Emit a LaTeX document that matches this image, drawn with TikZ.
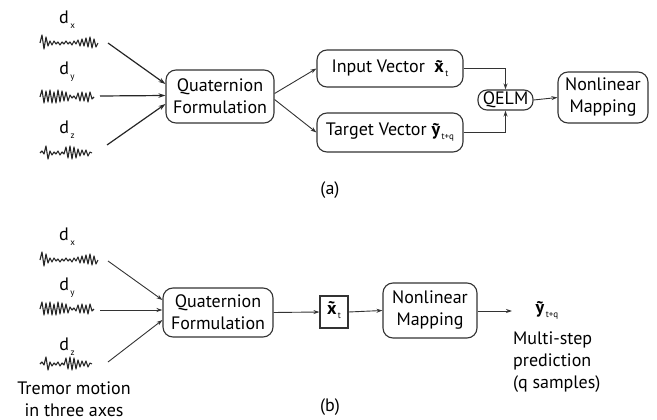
\documentclass[tikz,border=0pt]{standalone}
\usepackage{fontspec}
\setmainfont{PT Sans}
\usetikzlibrary{arrows.meta}

% bold vector with a tilde placed over it and a small lowered index
\newcommand{\tvec}[2]{{\bfseries\ooalign{#1\cr\hidewidth\raisebox{-0.05ex}{\char"02DC}\hidewidth\cr}}\raisebox{-0.45ex}{\fontsize{9}{9}\selectfont\,#2}}
% axis label d with its index
\newcommand{\axislabel}[1]{d\raisebox{-0.55ex}{\fontsize{9}{9}\selectfont\,#1}}

\tikzset{
  every node/.style={font=\fontsize{18}{22}\selectfont, inner sep=0pt},
  box/.style={draw=black!80, line width=1.1pt, rounded corners=10pt, align=center},
  sqbox/.style={draw=black!80, line width=1.1pt, align=center},
  arr/.style={draw=black!80, line width=0.9pt, -{Stealth[length=6pt,width=4pt]}},
  sigarr/.style={draw=black!85, line width=1.2pt, -{Stealth[length=7pt,width=4.5pt]}},
  wave/.style={draw=black!85, line width=1.1pt, line join=round},
}

% tremor trace: start x, base y, list of offsets (2pt apart)
\newcommand{\trace}[3]{\draw[wave] (#1,#2) \foreach \v [count=\i] in {#3} { -- ({#1+2*\i},{#2+\v}) };}

\begin{document}
\begin{tikzpicture}[x=1pt,y=-1pt]
\useasboundingbox (0,0) rectangle (657,420);

% ---------------- panel (a) ----------------
\node (ax) at (67,20) {\axislabel{x}};
\node (ay) at (67,72) {\axislabel{y}};
\node (az) at (67,130) {\axislabel{z}};
\trace{40}{43}{-8,6,-6,3,-2,2,-2,1,-1,2,-1,1,-2,1,-1,2,-2,1,-3,3,-4,3,-5,4,-6,5,-4,4,0}
\trace{40}{97}{-7,6,-6,5,-7,6,-5,6,-7,5,-6,4,-5,4,-2,1,-1,2,-4,4,-5,4,-4,5,-5,2,0}
\trace{40}{153}{-2,1,-7,6,-2,2,-1,1,-2,2,-1,1,-6,5,-7,6,-6,5,-4,3,-3,2,-3,3,-1,0}
\coordinate (sxa) at (108,43);
\coordinate (sya) at (100,96);
\coordinate (sza) at (107,145);

\node[box, minimum width=108pt, minimum height=53pt] (qa) at (220,96.5) {Quaternion\\Formulation};
\node[box, minimum width=146pt, minimum height=37pt] (in) at (390,68.5) {Input Vector \ \tvec{x}{t}};
\node[box, minimum width=146pt, minimum height=39pt] (tg) at (390,132.5) {Target Vector \tvec{y}{t+q}};
\node[box, rounded corners=9pt, minimum width=55pt, minimum height=20pt] (ql) at (505.5,100) {QELM};
\node[box, minimum width=90pt, minimum height=51pt] (nla) at (603,97.5) {Nonlinear\\Mapping};
\node (la) at (330,190) {(a)};

\draw[sigarr] (sxa) -- ([yshift=12.5pt]qa.west);
\draw[sigarr] (sya) -- ([yshift=1pt]qa.west);
\draw[sigarr] (sza) -- ([yshift=-7.5pt]qa.west);
\draw[arr] ([yshift=3pt]qa.east) -- (in.west);
\draw[arr] ([yshift=-3pt]qa.east) -- (tg.west);
\draw[arr] (in.east) -| (ql.north);
\draw[arr] (tg.east) -| (ql.south);
\draw[arr] (ql.east) -- (nla.west);

% ---------------- panel (b) ----------------
\node (bx) at (67,237) {\axislabel{x}};
\node (by) at (67,288) {\axislabel{y}};
\node (bz) at (67,347) {\axislabel{z}};
\trace{40}{260}{-8,6,-6,3,-2,2,-2,1,-1,2,-1,1,-2,1,-1,2,-2,1,-3,3,-4,3,-5,4,-6,5,-4,4,0}
\trace{40}{309}{-7,6,-6,5,-7,6,-5,6,-7,5,-6,4,-5,4,-2,1,-1,2,-4,4,-5,4,-4,5,-5,2,0}
\trace{40}{364}{-2,1,-7,6,-2,2,-1,1,-2,2,-1,1,-6,5,-7,6,-6,5,-4,3,-3,2,-3,3,-1,0}
\coordinate (sxb) at (108,261);
\coordinate (syb) at (100,310);
\coordinate (szb) at (108,362);
\node[align=center] (tremor) at (74,399) {Tremor motion\\in three axes};

\node[box, minimum width=110pt, minimum height=49pt] (qb) at (218,312.5) {Quaternion\\Formulation};
\node[sqbox, minimum width=28pt, minimum height=32pt] (xt) at (334,312) {\tvec{x}{t}};
\node[box, minimum width=94pt, minimum height=55pt] (nlb) at (430,310.5) {Nonlinear\\Mapping};
\node (yo) at (547,312) {\tvec{y}{t+q}};
\coordinate (yend) at (512,311);
\node[align=left, anchor=north west] (ms) at (513,332) {Multi-step\\prediction\\(q samples)};
\node (lb) at (330,407) {(b)};

\draw[arr] (sxb) -- ([yshift=12.5pt]qb.west);
\draw[arr] (syb) -- ([yshift=2.5pt]qb.west);
\draw[arr] (szb) -- ([yshift=-7.5pt]qb.west);
\draw[arr] (qb.east) -- (xt.west);
\draw[arr] (xt.east) -- (nlb.west);
\draw[arr] (nlb.east |- yend) -- (yend);
\end{tikzpicture}
\end{document}
